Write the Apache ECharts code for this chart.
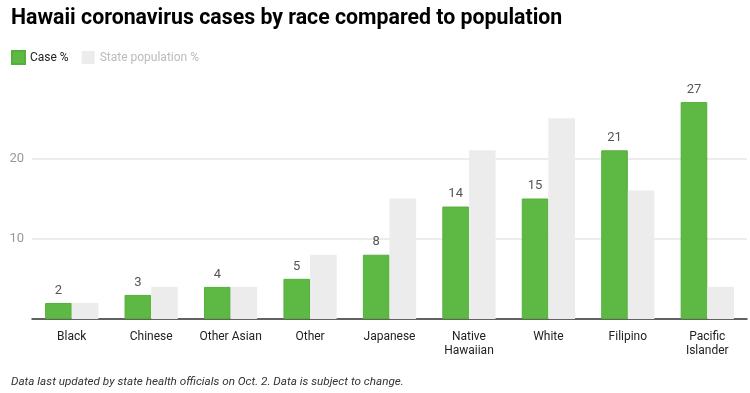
<!DOCTYPE html>
<html><head><meta charset="utf-8">
<script src="https://cdn.jsdelivr.net/npm/echarts@6/dist/echarts.min.js"></script>
<style>html,body{margin:0;padding:0;background:#fff}#c{width:750px;height:393px}</style>
</head><body><div id="c"></div>
<script>
const categories = ['Black','Chinese','Other Asian','Other','Japanese','Native\nHawaiian','White','Filipino','Pacific\nIslander'];
const casePct = [2,3,4,5,8,14,15,21,27];
const popPct = [2,4,4,8,15,21,25,16,4];
const yTicks = [10,20];

const chart = echarts.init(document.getElementById('c'));
chart.setOption({
  animation:false,
  textStyle:{fontFamily:'Roboto'},
  title:[{text:'Hawaii coronavirus cases by race compared to population',left:11,top:8,padding:0,
    textStyle:{fontSize:21.3,fontWeight:'bold',color:'#000',fontFamily:'Roboto'}},
    {text:'Data last updated by state health officials on Oct. 2. Data is subject to change.',left:11,top:376,padding:0,
    textStyle:{fontSize:11.7,fontWeight:'normal',fontStyle:'italic',color:'#333',fontFamily:'Roboto'}}],
  legend:{left:11,top:50,padding:0,itemWidth:13,itemHeight:13,itemGap:13,icon:'rect',
    data:[{name:'Case %',textStyle:{color:'#222'}},{name:'State population %',textStyle:{color:'#bbb'}}],
    textStyle:{fontSize:12,fontFamily:'Roboto'}},
  grid:{left:32,right:3,top:78,bottom:74,containLabel:false},
  xAxis:{type:'category',data:categories,
    axisLine:{lineStyle:{color:'#333',width:1.5}},axisTick:{show:false},
    axisLabel:{interval:0,color:'#222',fontSize:12,margin:11,lineHeight:14,fontFamily:'Roboto'}},
  yAxis:{type:'value',min:0,max:30,interval:10,
    axisLine:{show:false},axisTick:{show:false},
    axisLabel:{color:'#999',fontSize:13,margin:8,formatter:v=>yTicks.includes(v)?String(v):''},
    splitLine:{lineStyle:{color:['#e6e6e6','#e6e6e6','#e6e6e6','rgba(0,0,0,0)'],width:1.5}}},
  series:[
    {name:'Case %',type:'bar',data:casePct,barGap:'0%',barCategoryGap:'33%',
     itemStyle:{color:'#5eb944',borderColor:'#54b03b',borderWidth:1},
     label:{show:true,position:'top',color:'#555',fontSize:13,distance:6}},
    {name:'State population %',type:'bar',data:popPct,
     itemStyle:{color:'#ececec'}}
  ]
});
</script></body></html>
